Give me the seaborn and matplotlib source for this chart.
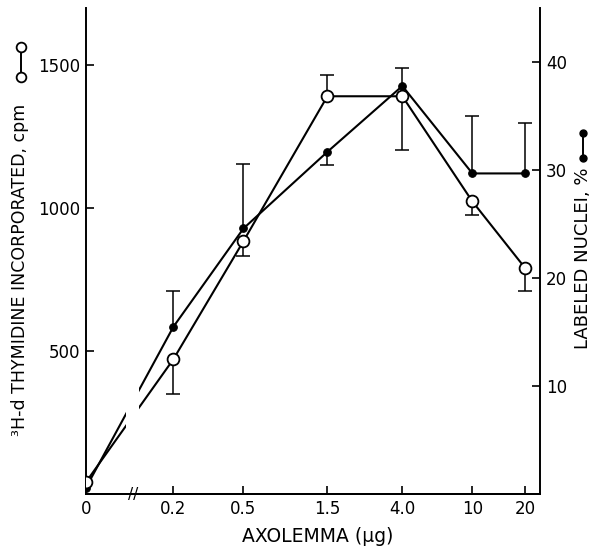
import numpy as np
import pandas as pd
import seaborn as sns
import matplotlib
matplotlib.use('Agg')
import matplotlib.pyplot as plt
from matplotlib.lines import Line2D

# Values
doses = [0, 0.2, 0.5, 1.5, 4.0, 10, 20]
dose_labels = ["0", "0.2", "0.5", "1.5", "4.0", "10", "20"]

thymidine_cpm = [42, 472, 885, 1392, 1392, 1024, 790]
thymidine_err_lo = [0, 122, 53, 0, 189, 48, 80]
thymidine_err_hi = [0, 0, 0, 76, 0, 0, 0]

labeled_pct = [0.6, 15.5, 24.6, 31.7, 37.8, 29.7, 29.7]
labeled_err_lo = [0, 0, 0, 1.2, 0, 0, 0]
labeled_err_hi = [0, 3.3, 6.0, 0, 1.7, 5.3, 4.7]

# the "0" dose sits at the left edge of a log axis (axis is broken)
X_FLOOR = 0.0637


def fwd(x):
    return np.log10(np.maximum(x, X_FLOOR))


def inv(y):
    return 10 ** y


def draw_errors(ax, x, y, lo, hi, cap=10):
    x, y, lo, hi = map(np.asarray, (x, y, lo, hi))
    for err, sign in ((lo, -1), (hi, 1)):
        m = err > 0
        ends = y[m] + sign * err[m]
        ax.vlines(x[m], y[m], ends, color='black', lw=1.1, zorder=2)
        ax.plot(x[m], ends, ls='none', marker='_', markersize=cap,
                markeredgewidth=1.1, color='black', zorder=2)


def main():
    sns.set_style("ticks")
    plt.rcParams['font.family'] = ['DejaVu Sans']
    plt.rcParams.update({'text.color': 'black', 'xtick.color': 'black',
                         'ytick.color': 'black', 'axes.edgecolor': 'black'})

    df = pd.DataFrame({
        'dose': doses,
        'cpm': thymidine_cpm,
        'pct': labeled_pct,
    })

    fig = plt.figure(figsize=(5.93, 5.49), dpi=100)
    ax = fig.add_axes([0.145, 0.100, 0.766, 0.885])
    ax.set_xscale('function', functions=(fwd, inv))
    ax2 = ax.twinx()
    # open circles on top
    ax.set_zorder(ax2.get_zorder() + 1)
    ax.patch.set_visible(False)

    sns.lineplot(data=df, x='dose', y='pct', ax=ax2, color='black', lw=1.5,
                 marker='o', markersize=5.5, markerfacecolor='black',
                 markeredgecolor='black', errorbar=None, zorder=3)
    draw_errors(ax2, doses, labeled_pct, labeled_err_lo, labeled_err_hi)

    sns.lineplot(data=df, x='dose', y='cpm', ax=ax, color='black', lw=1.5,
                 marker='o', markersize=8.5, markerfacecolor='white',
                 markeredgecolor='black', markeredgewidth=1.3,
                 errorbar=None, zorder=3)
    draw_errors(ax, doses, thymidine_cpm, thymidine_err_lo, thymidine_err_hi)

    # broken axis: gap in the lines and // on the x axis
    ax.axvspan(0.108, 0.127, ymin=0.05, ymax=0.95, color='white', lw=0, zorder=4)
    ax.text(0.118, 0, "//", transform=ax.get_xaxis_transform(), ha='center',
            va='center', fontsize=11)

    ax.set_xlim(0, 24.3)
    ax.set_ylim(0, 1700)
    ax2.set_ylim(0, 45)
    ax.set_xticks(doses, dose_labels)
    ax.set_yticks([500, 1000, 1500])
    ax2.set_yticks([10, 20, 30, 40])

    for a in (ax, ax2):
        a.tick_params(direction='in', length=6, width=1.2, labelsize=12, pad=4)
        a.set_xlabel("")
        a.set_ylabel("")
        a.spines['top'].set_visible(False)
        for s in a.spines.values():
            s.set_linewidth(1.4)
    ax.spines['right'].set_visible(False)
    ax2.spines['left'].set_visible(False)

    fig.text(318 / 593, 1 - 537 / 549, "AXOLEMMA (µg)", ha='center', va='center',
             fontsize=13.5)
    fig.text(20 / 593, 1 - 270 / 549, "³H-d THYMIDINE INCORPORATED, cpm",
             rotation=90, ha='center', va='center', fontsize=12.5)
    fig.text(583 / 593, 1 - 258 / 549, "LABELED NUCLEI, %",
             rotation=90, ha='center', va='center', fontsize=13)

    # little key symbols next to the axis titles
    fig.add_artist(Line2D([21 / 593] * 2, [1 - 47 / 549, 1 - 77 / 549],
                          transform=fig.transFigure, color='black', lw=1.4,
                          marker='o', markersize=7, markerfacecolor='white',
                          markeredgewidth=1.3))
    fig.add_artist(Line2D([583 / 593] * 2, [1 - 133 / 549, 1 - 158 / 549],
                          transform=fig.transFigure, color='black', lw=1.4,
                          marker='o', markersize=5, markerfacecolor='black'))

    fig.savefig('out.png', dpi=100)


if __name__ == '__main__':
    main()
